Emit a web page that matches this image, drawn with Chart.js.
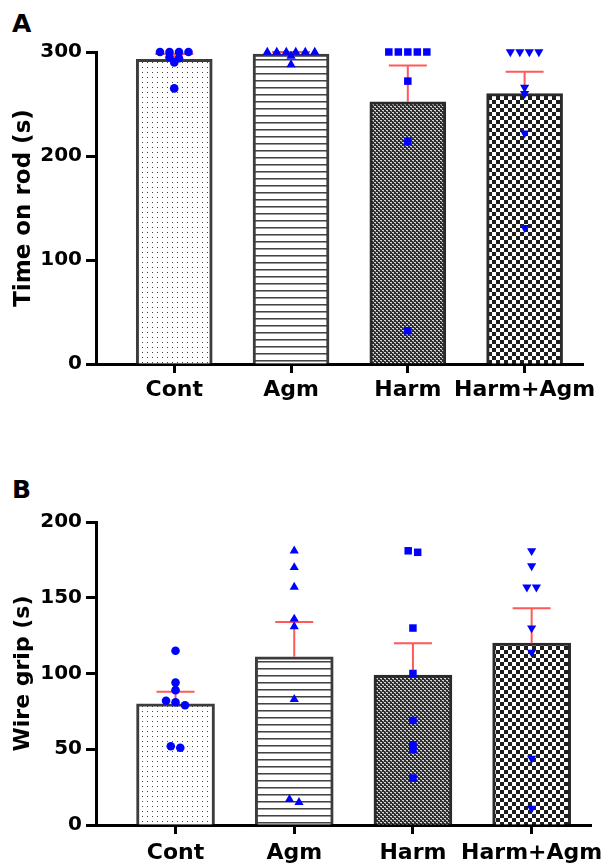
<!DOCTYPE html>
<html>
<head>
<meta charset="utf-8">
<script src="https://cdn.jsdelivr.net/npm/chart.js@4/dist/chart.umd.min.js"></script>
<style>
  body { margin: 0; background: #fff; }
  #wrap { position: relative; width: 603px; height: 868px; }
  canvas { position: absolute; left: 0; }
  .panel { position: absolute; left: 12px; font: bold 25px "DejaVu Sans", sans-serif; color: #000; }
</style>
</head>
<body>
<div id="wrap">
  <div class="panel" style="top: 9px;">A</div>
  <canvas id="rod" width="603" height="434" style="top:0"></canvas>
  <div class="panel" style="top: 475px;">B</div>
  <canvas id="grip" width="603" height="434" style="top:434px"></canvas>
</div>
<script>
'use strict';

/* ── Data ─────────────────────────────────────────── */
const categories = ['Cont', 'Agm', 'Harm', 'Harm+Agm'];

// A: rotarod
const rodTicks   = [0, 100, 200, 300];
const rodMean    = [293, 298, 252, 260];
const rodSem     = [5, 2, 35, 21];
const rodCont    = [300, 300, 300, 300, 295, 294, 290, 265];
const rodAgm     = [300, 300, 300, 300, 300, 300, 296, 288];
const rodHarm    = [300, 300, 300, 300, 300, 272, 214, 32];
const rodHarmAgm = [300, 300, 300, 300, 266, 260, 222, 131];

// B: wire grip
const gripTicks   = [0, 50, 100, 150, 200];
const gripMean    = [80, 111, 99, 120];
const gripSem     = [8, 23, 21, 23];
const gripCont    = [115, 94, 89, 82, 81, 79, 52, 51];
const gripAgm     = [181, 170, 157, 136, 131, 83, 17, 15];
const gripHarm    = [181, 180, 130, 100, 69, 53, 50, 31];
const gripHarmAgm = [181, 171, 157, 157, 130, 114, 44, 11];

/* ── Fill patterns ────────────────────────────────── */
function tile(w, h, draw) {
  const c = document.createElement('canvas');
  c.width = w; c.height = h;
  const g = c.getContext('2d');
  draw(g);
  return document.createElement('canvas').getContext('2d').createPattern(c, 'repeat');
}
function px(g, color, x, y, w = 1, h = 1) { g.fillStyle = color; g.fillRect(x, y, w, h); }

const patterns = [
  // dots
  tile(5, 5, g => { px(g, '#fff', 0, 0, 5, 5); px(g, '#444', 2, 2); }),
  // horizontal lines
  tile(4, 7, g => { px(g, '#fff', 0, 0, 4, 7); px(g, '#444', 0, 3, 4, 1); px(g, '#999', 0, 4, 4, 1); }),
  // fine weave
  tile(4, 4, g => {
    px(g, '#2c2c2c', 0, 0, 4, 4);
    px(g, '#d8d8d8', 0, 0, 2, 1); px(g, '#8a8a8a', 1, 1);
    px(g, '#d8d8d8', 2, 2, 2, 1); px(g, '#8a8a8a', 3, 3);
  }),
  // checkerboard
  tile(8, 8, g => { px(g, '#fff', 0, 0, 8, 8); px(g, '#1e1e1e', 0, 0, 4, 4); px(g, '#1e1e1e', 4, 4, 4, 4); }),
];

/* ── Error bars (upper SEM only) ──────────────────── */
const errorBars = {
  id: 'errorBars',
  afterDatasetDraw(chart, args, opts) {
    if (args.meta.type !== 'bar') return;
    const { ctx } = chart;
    const y = chart.scales.y;
    ctx.save();
    ctx.strokeStyle = '#ff5a5a';
    ctx.lineWidth = 2;
    args.meta.data.forEach((el, i) => {
      const top = y.getPixelForValue(opts.mean[i] + opts.sem[i]);
      ctx.beginPath();
      ctx.moveTo(el.x, el.y);
      ctx.lineTo(el.x, top);
      ctx.moveTo(el.x - 19, top);
      ctx.lineTo(el.x + 19, top);
      ctx.stroke();
    });
    ctx.restore();
  }
};

/* ── Spread tied points sideways (scatter-dot style) ─ */
function spread(chart, groups) {
  const xs = chart.scales.x, ys = chart.scales.y;
  const unit = xs.getPixelForValue(1) - xs.getPixelForValue(0);
  groups.forEach((vals, g) => {
    const rows = [];
    let prev = null;
    vals.forEach(v => {
      const py = ys.getPixelForValue(v);
      if (prev !== null && Math.abs(py - prev) < 3.2) rows[rows.length - 1].push(v);
      else rows.push([v]);
      prev = py;
    });
    const pts = [];
    rows.forEach(r => r.forEach((v, k) => pts.push({ x: g + (k - (r.length - 1) / 2) * 9.5 / unit, y: v })));
    chart.data.datasets[g].data = pts;
  });
  chart.update('none');
}

/* ── Chart builder ────────────────────────────────── */
const FONT = '"DejaVu Sans", sans-serif';
const styles = [
  { pointStyle: 'circle',   radius: 4.3, rotation: 0 },
  { pointStyle: 'triangle', radius: 5.3, rotation: 0 },
  { pointStyle: 'rect',     radius: 5.3, rotation: 0 },
  { pointStyle: 'triangle', radius: 5.3, rotation: 180 },
];

function build(id, cfg) {
  const scatter = cfg.points.map((vals, i) => ({
    type: 'scatter',
    data: vals.map(v => ({ x: i, y: v })),
    pointStyle: styles[i].pointStyle,
    pointRadius: styles[i].radius,
    pointRotation: styles[i].rotation,
    backgroundColor: '#0000ff',
    borderColor: '#0000ff',
    borderWidth: 0,
    clip: false,
    order: 0,
  }));
  const bars = {
    type: 'bar',
    data: cfg.mean.map((v, i) => ({ x: i, y: v })),
    backgroundColor: patterns,
    borderColor: ['#3c3c3c', '#3c3c3c', '#2a2a2a', '#2a2a2a'],
    borderWidth: 3,
    barThickness: cfg.barWidth,
    order: 1,
  };
  const chart = new Chart(document.getElementById(id), {
    type: 'bar',
    data: { datasets: [...scatter, bars] },
    plugins: [errorBars],
    options: {
      responsive: false,
      animation: false,
      events: [],
      layout: { padding: { top: cfg.top, right: cfg.right, left: 0, bottom: 0 } },
      plugins: {
        legend: { display: false },
        tooltip: { enabled: false },
        errorBars: { mean: cfg.mean, sem: cfg.sem },
      },
      scales: {
        x: {
          type: 'linear',
          min: -0.67, max: 3.5,
          offset: false,
          afterBuildTicks: s => { s.ticks = categories.map((c, i) => ({ value: i })); },
          afterFit: s => { s.height = cfg.xHeight; s.paddingLeft = 0; s.paddingRight = 0; },
          ticks: {
            callback: v => categories[v],
            autoSkip: false, maxRotation: 0,
            color: '#000', padding: cfg.xPad,
            font: { family: FONT, size: 22, weight: 'bold' },
          },
          grid: { offset: false, drawOnChartArea: false, tickLength: 9, tickWidth: 3, tickColor: '#000' },
          border: { color: '#000', width: 3 },
        },
        y: {
          min: 0, max: cfg.ticks[cfg.ticks.length - 1],
          afterBuildTicks: s => { s.ticks = cfg.ticks.map(v => ({ value: v })); },
          afterFit: s => { s.width = 96; },
          ticks: {
            color: '#000', padding: 4,
            font: { family: FONT, size: 20, weight: 'bold' },
          },
          title: {
            display: true, text: cfg.title, color: '#000',
            padding: { top: 10, bottom: 0 },
            font: { family: FONT, size: cfg.titleSize, weight: 'bold' },
          },
          grid: { drawOnChartArea: false, tickLength: 10, tickWidth: 3, tickColor: '#000' },
          border: { color: '#000', width: 3 },
        },
      },
    },
  });
  spread(chart, cfg.points);
  return chart;
}

build('rod', {
  title: 'Time on rod (s)', ticks: rodTicks, titleSize: 23,
  mean: rodMean, sem: rodSem,
  points: [rodCont, rodAgm, rodHarm, rodHarmAgm],
  top: 52, right: 20, xHeight: 70, barWidth: 76, xPad: 4,
});

build('grip', {
  title: 'Wire grip (s)', ticks: gripTicks, titleSize: 22,
  mean: gripMean, sem: gripSem,
  points: [gripCont, gripAgm, gripHarm, gripHarmAgm],
  top: 88, right: 12, xHeight: 43, barWidth: 78, xPad: 6,
});
</script>
</body>
</html>
